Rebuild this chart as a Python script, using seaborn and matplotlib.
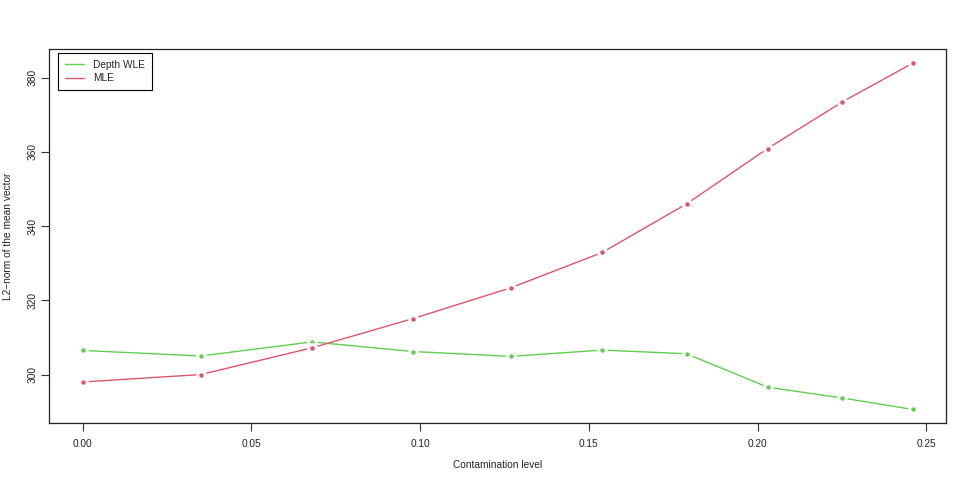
import matplotlib
matplotlib.use("Agg")
import matplotlib.pyplot as plt
from matplotlib.lines import Line2D
import seaborn as sns
import pandas as pd

contamination = [0.0, 0.035, 0.068, 0.098, 0.127, 0.154, 0.179, 0.203, 0.225, 0.246]
depth_wle = [306.5, 305.0, 308.8, 306.2, 304.9, 306.6, 305.6, 296.6, 293.7, 290.6]
mle = [298.0, 300.0, 307.2, 315.1, 323.4, 332.9, 346.0, 360.9, 373.4, 383.9]
series_names = ["Depth WLE", "MLE"]
series_colors = ["#61D04F", "#DF536B"]
x_ticks = [0.00, 0.05, 0.10, 0.15, 0.20, 0.25]
y_ticks = [300, 320, 340, 360, 380]

df = pd.DataFrame({
    "x": contamination * 2,
    "y": depth_wle + mle,
    "series": [series_names[0]] * len(contamination) + [series_names[1]] * len(contamination),
})

sns.set_theme(style="white")
plt.rcParams["font.family"] = ["Liberation Sans", "DejaVu Sans"]

FS = 7.3
fig = plt.figure(figsize=(9.72, 4.86), dpi=100)
ax = fig.add_axes([49.3 / 972, 1 - 423.3 / 486, (946 - 49.3) / 972, (423.3 - 49.3) / 486])

sns.lineplot(data=df, x="x", y="y", hue="series", palette=series_colors,
             marker="o", markersize=5.5, markeredgecolor="white", markeredgewidth=2.2,
             linewidth=1.0, ax=ax, legend=False)

xr = max(contamination) - min(contamination)
ax.set_xlim(min(contamination) - 0.04 * xr, max(contamination) + 0.04 * xr)
allv = depth_wle + mle
yr = max(allv) - min(allv)
ax.set_ylim(min(allv) - 0.04 * yr, max(allv) + 0.04 * yr)

ax.set_xticks(x_ticks)
ax.set_xticklabels([f"{t:.2f}" for t in x_ticks])
ax.set_yticks(y_ticks)
ax.set_yticklabels([str(t) for t in y_ticks], rotation=90, va="center")
ax.tick_params(axis="both", which="both", direction="out", length=6, width=0.8,
               color="#333333", labelsize=FS, labelcolor="#222222", bottom=True, left=True)
ax.tick_params(axis="x", pad=5.5)
ax.tick_params(axis="y", pad=2.5)
ax.set_xlabel("Contamination level", fontsize=FS, color="#222222", va="center")
ax.set_ylabel("L2\u2212norm of the mean vector", fontsize=FS, color="#222222", va="center")
ax.xaxis.set_label_coords(0.5, (423.3 - 465) / 374)
ax.yaxis.set_label_coords((8.5 - 49.3) / 896.7, 0.5)

for s in ax.spines.values():
    s.set_color("#222222")
    s.set_linewidth(0.9)

handles = [Line2D([0], [0], color=c, lw=1.0) for c in series_colors]
leg = ax.legend(handles, series_names, loc="upper left", fontsize=FS, frameon=True,
                fancybox=False, edgecolor="black", framealpha=1,
                bbox_to_anchor=(58 / 972, 1 - 53.3 / 486), bbox_transform=fig.transFigure,
                borderaxespad=0, handlelength=1.95, handletextpad=0.9,
                borderpad=0.65, labelspacing=0.35)
leg.get_frame().set_linewidth(0.8)

fig.savefig("out.png", dpi=100)
